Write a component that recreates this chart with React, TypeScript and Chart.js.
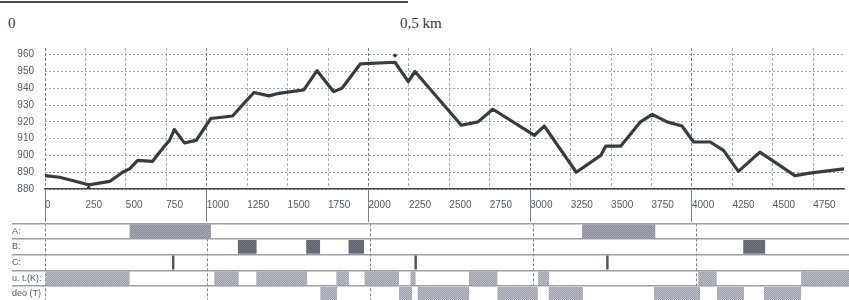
import React, { useEffect, useRef } from "react";
import { Chart, registerables } from "chart.js";
Chart.register(...registerables);

// Elevation profile (distance in m, elevation in m)
const distances = [0, 90, 270, 400, 480, 523, 573, 665, 738, 770, 800, 862, 935, 1025, 1160, 1220, 1292, 1385, 1446, 1557, 1600, 1682, 1785, 1836, 1949, 2164, 2246, 2287, 2574, 2677, 2769, 3026, 3087, 3285, 3436, 3467, 3559, 3682, 3754, 3846, 3938, 4010, 4113, 4195, 4287, 4420, 4636, 4728, 4940];
const elevations = [888, 887, 882.5, 884.5, 890, 892, 897, 896.5, 905.5, 909, 915.5, 907.5, 909, 922, 923.5, 930, 937.5, 935.5, 937, 938.5, 939, 950.5, 938, 940, 954.5, 955.5, 944, 950, 918, 920, 927.5, 912, 917.5, 890, 900, 905.5, 905.5, 920, 924.5, 920, 917.5, 908, 908, 903, 890.5, 902, 888, 889.5, 892];

const lowMarker = [{ x: 270, y: 880.6 }];
const summitMarker = [{ x: 2164, y: 959.5 }];

const xTickValues = [0, 250, 500, 750, 1000, 1250, 1500, 1750, 2000, 2250, 2500, 2750, 3000, 3250, 3500, 3750, 4000, 4250, 4500, 4750];
const xMajorValues = [0, 1000, 2000, 3000, 4000];
const yTickValues = [880, 890, 900, 910, 920, 930, 940, 950, 960];

const xMin = 0;
const xMax = 4940;
const yMin = 880;
const yMax = 964;

// Lanes below the profile
const laneLabels = ["A:", "B:", "C:", "u. t.(K):", "deo (T)"];
const laneA = [[520, 1020], [3300, 3750]];
const laneB = [[1185, 1300], [1605, 1690], [1865, 1960], [4290, 4425]];
const laneC = [[780, 795], [2270, 2285], [3448, 3463]];
const laneK = [[0, 520], [1040, 1190], [1298, 1610], [1790, 1867], [1963, 2175], [2246, 2277], [2605, 2780], [3030, 3097], [4014, 4127], [4646, 4940]];
const laneT = [[1692, 1795], [2175, 2255], [2290, 2606], [2780, 3028], [3095, 3305], [3742, 4025], [4129, 4295], [4418, 4646]];

const FONT = "'Liberation Sans', Arial, sans-serif";

function makePattern(base: string, dot: string) {
  const c = document.createElement("canvas");
  c.width = 2;
  c.height = 2;
  const g = c.getContext("2d")!;
  g.fillStyle = base;
  g.fillRect(0, 0, 2, 2);
  g.fillStyle = dot;
  g.fillRect(0, 0, 1, 1);
  g.fillRect(1, 1, 1, 1);
  return g.createPattern(c, "repeat")!;
}

export default function App() {
  const topRef = useRef<HTMLCanvasElement>(null);
  const laneRef = useRef<HTMLCanvasElement>(null);

  useEffect(() => {
    const major = (c: any) => c.tick && xMajorValues.includes(c.tick.value);
    const topChart = new Chart(topRef.current!, {
      type: "line",
      data: {
        datasets: [
          {
            data: distances.map((d, i) => ({ x: d, y: elevations[i] })),
            borderColor: "#3a3b41",
            borderWidth: 3.2,
            pointRadius: 0,
            tension: 0,
            borderJoinStyle: "round",
            borderCapStyle: "round",
          },
          {
            type: "scatter",
            data: lowMarker,
            pointStyle: "triangle",
            pointRadius: 2.5,
            backgroundColor: "#333",
            borderColor: "#333",
            borderWidth: 1,
          },
          {
            type: "scatter",
            data: summitMarker,
            pointStyle: "rectRot",
            pointRadius: 1.8,
            backgroundColor: "#333",
            borderColor: "#333",
            borderWidth: 1,
          },
        ] as any,
      },
      options: {
        responsive: false,
        animation: false,
        devicePixelRatio: 1,
        layout: { padding: { top: 48, left: 0, right: 0, bottom: 0 } },
        plugins: { legend: { display: false }, tooltip: { enabled: false } },
        scales: {
          x: {
            type: "linear",
            min: xMin,
            max: xMax,
            afterBuildTicks: (s: any) => {
              s.ticks = xTickValues.map((value) => ({ value }));
            },
            afterFit: (s: any) => {
              s.height = 36;
            },
            ticks: {
              align: "start",
              padding: -23,
              maxRotation: 0,
              autoSkip: false,
              color: "#55585f",
              font: { family: FONT, size: 10 },
              callback: (v: any) => String(v),
            },
            grid: {
              color: (c: any) => (major(c) ? "#7d818c" : "#a9adb7"),
              lineWidth: 1,
              tickLength: 33,
              tickWidth: 1,
              tickColor: (c: any) => (major(c) ? "#7d818c" : "rgba(0,0,0,0)"),
            },
            border: { display: true, color: "#4a4b50", width: 1.5, dash: [3, 2] },
          },
          y: {
            min: yMin,
            max: yMax,
            afterBuildTicks: (s: any) => {
              s.ticks = yTickValues.map((value) => ({ value }));
            },
            afterFit: (s: any) => {
              s.width = 45;
            },
            ticks: {
              padding: 11,
              color: "#55585f",
              font: { family: FONT, size: 10 },
              callback: (v: any) => String(v),
            },
            grid: { color: "#9ea2ad", lineWidth: 1, drawTicks: false },
            border: { display: false, dash: [2, 2] },
          },
        },
      } as any,
    });

    const pA = makePattern("#a9aab2", "#8a8c96");
    const pB = makePattern("#727580", "#5f626b");
    const pK = makePattern("#c0c1c8", "#9a9ca6");
    const toBars = (segs: number[][], lane: number) =>
      segs.map((s) => ({ x: s, y: laneLabels[lane] }));

    const laneChart = new Chart(laneRef.current!, {
      type: "bar",
      data: {
        labels: laneLabels,
        datasets: [
          { data: toBars(laneA, 0), backgroundColor: pA },
          { data: toBars(laneB, 1), backgroundColor: pB },
          { data: toBars(laneC, 2), backgroundColor: "#50545d" },
          { data: toBars(laneK, 3), backgroundColor: pK },
          { data: toBars(laneT, 4), backgroundColor: pK },
        ] as any,
      },
      options: {
        indexAxis: "y",
        responsive: false,
        animation: false,
        devicePixelRatio: 1,
        layout: { padding: { top: 7, bottom: 3, left: 12, right: 0 } },
        plugins: { legend: { display: false }, tooltip: { enabled: false } },
        datasets: {
          bar: { grouped: false, barPercentage: 0.88, categoryPercentage: 1, borderWidth: 0 },
        },
        scales: {
          x: {
            type: "linear",
            min: xMin,
            max: xMax,
            afterBuildTicks: (s: any) => {
              s.ticks = xMajorValues.map((value) => ({ value }));
            },
            afterFit: (s: any) => {
              s.height = 0;
            },
            ticks: { display: false },
            grid: { color: "#7d818c", lineWidth: 1, drawTicks: false },
            border: { display: false, dash: [3, 2] },
          },
          y: {
            afterFit: (s: any) => {
              s.width = 33;
            },
            ticks: {
              crossAlign: "far",
              color: "#55585f",
              font: { family: FONT, size: 9 },
            },
            grid: {
              color: "#9b9ea8",
              lineWidth: 1.5,
              tickLength: 33,
              tickColor: "#9b9ea8",
              tickWidth: 1.5,
            },
            border: { display: false },
          },
        },
      } as any,
    });

    return () => {
      topChart.destroy();
      laneChart.destroy();
    };
  }, []);

  return (
    <div
      style={{
        position: "fixed",
        left: 0,
        top: 0,
        width: 849,
        height: 300,
        overflow: "hidden",
        background: "#fff",
      }}
    >
      <div style={{ position: "absolute", left: 0, top: 1, width: 408, height: 2, background: "#4d4e53" }} />
      <div
        style={{
          position: "absolute",
          left: 8,
          top: 15,
          font: "15px 'Liberation Serif', serif",
          color: "#333",
          whiteSpace: "nowrap",
        }}
      >
        0
      </div>
      <div
        style={{
          position: "absolute",
          left: 400,
          top: 15,
          font: "15px 'Liberation Serif', serif",
          color: "#333",
          whiteSpace: "nowrap",
        }}
      >
        0,5 km
      </div>
      <canvas ref={topRef} width={849} height={225} style={{ position: "absolute", left: 0, top: 0 }} />
      <canvas ref={laneRef} width={849} height={95} style={{ position: "absolute", left: 0, top: 215 }} />
    </div>
  );
}
